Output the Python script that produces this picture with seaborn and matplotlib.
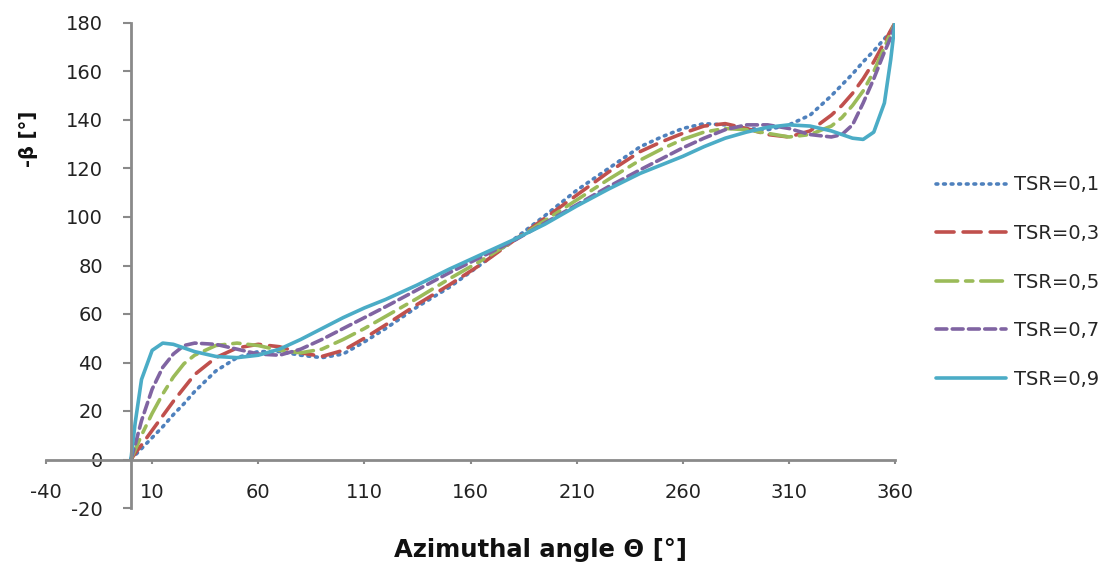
import numpy as np
import pandas as pd
import matplotlib
matplotlib.use("Agg")
import matplotlib.pyplot as plt
import seaborn as sns

# ---- data ----
theta = [0, 2, 5, 10, 15, 20, 25, 30, 40, 50, 60, 70, 80, 90, 100, 110, 120, 135,
         150, 165, 180, 195, 210, 225, 240, 250, 260, 270, 280, 290, 300, 310,
         320, 330, 335, 340, 345, 350, 355, 358, 360]

tsr_01 = [0, 1.8, 4.5, 9, 13.5, 18.5, 23, 28, 36.5, 42, 44.5, 44.5, 43, 42, 43.5, 48.5, 54, 63,
          71, 80.5, 90.5, 100.5, 111, 120, 129, 133, 136.5, 138.5, 138, 136.5, 136, 138,
          142, 150, 154.5, 159, 164, 168.5, 173.5, 176.5, 180]
tsr_03 = [0, 2.5, 6, 12, 18, 24, 29.5, 35, 42, 46, 47.5, 46.5, 44, 42.5, 45, 50, 55.5, 64,
          72, 80.5, 90, 99.5, 109, 118.5, 127, 131, 134.5, 137.5, 138.5, 136.5, 134, 133,
          135.5, 142, 146, 151, 157, 164, 172, 177, 180]
tsr_05 = [0, 4, 10, 19, 27, 34, 39.5, 43, 47, 48, 47, 45, 44, 45.5, 49.5, 54, 59, 66.5,
          74.5, 82, 90, 98.5, 107, 115.5, 123.5, 128, 132, 135, 136.5, 136, 134.5, 133,
          134, 137.5, 141, 146, 152, 160, 170, 176, 180]
tsr_07 = [0, 6, 16, 29, 38, 43.5, 47, 48, 47.5, 45.5, 43.5, 43, 45.5, 49.5, 54, 58.5, 63, 70,
          77, 83.5, 90, 97.5, 105, 112.5, 119.5, 124, 128.5, 132.5, 136, 138, 138, 136.5,
          134, 133, 134, 138, 147, 157, 168, 174, 180]
tsr_09 = [0, 15, 33, 45, 48, 47.5, 46, 44.5, 42.5, 42, 43, 45.5, 49.5, 54, 58.5, 62.5, 66, 72,
          78.5, 84.5, 90.5, 97, 104.5, 111.5, 118, 121.5, 125, 129, 132.5, 135, 137, 138,
          137.5, 135.5, 134, 132.5, 132, 135, 147, 165, 180]

series_labels = ["TSR=0,1", "TSR=0,3", "TSR=0,5", "TSR=0,7", "TSR=0,9"]
series_values = [tsr_01, tsr_03, tsr_05, tsr_07, tsr_09]
series_colors = ["#4F81BD", "#C0504D", "#9BBB59", "#8064A2", "#4BACC6"]

x_ticks = [-40, 10, 60, 110, 160, 210, 260, 310, 360]
y_ticks = [-20, 0, 20, 40, 60, 80, 100, 120, 140, 160, 180]

df = pd.concat(
    [pd.DataFrame({"theta": theta, "beta": vals, "series": lab})
     for lab, vals in zip(series_labels, series_values)],
    ignore_index=True)

# ---- styling ----
sns.set_theme(style="white")
plt.rcParams["font.family"] = ["DejaVu Sans"]
plt.rcParams["axes.unicode_minus"] = False

fig = plt.figure(figsize=(11.06, 5.67), dpi=100)
ax = fig.add_axes([46 / 1106, 1 - 508 / 567, (895 - 46) / 1106, (508 - 23) / 567])

dashes = {
    "TSR=0,1": (0.5, 1.6),
    "TSR=0,3": (5, 2.5),
    "TSR=0,5": (6, 2.2, 2, 2.2),
    "TSR=0,7": (3, 1.5),
    "TSR=0,9": "",
}

sns.lineplot(data=df, x="theta", y="beta", hue="series", style="series",
             hue_order=series_labels, style_order=series_labels,
             palette=dict(zip(series_labels, series_colors)),
             dashes=dashes, estimator=None, sort=False,
             linewidth=2.6, ax=ax, legend=True)

for ln in ax.get_lines():
    ln.set_dash_capstyle("round")

ax.set_xlim(-40, 360)
ax.set_ylim(-20, 180)
ax.set_xticks(x_ticks)
ax.set_yticks(y_ticks)

for side in ["top", "right"]:
    ax.spines[side].set_visible(False)
ax.spines["left"].set_position(("data", 0))
ax.spines["bottom"].set_position(("data", 0))
for side in ["left", "bottom"]:
    ax.spines[side].set_color("#8a8a8a")
    ax.spines[side].set_linewidth(2.0)

ax.tick_params(axis="y", which="major", direction="out", length=6, width=1.5,
               color="#8a8a8a", labelsize=14, labelcolor="#222222", pad=14, left=True)
ax.tick_params(axis="x", which="major", direction="out", length=3, width=1.5,
               color="#8a8a8a", labelsize=14, labelcolor="#222222", pad=14, bottom=True)

ax.set_xlabel("")
ax.set_ylabel("")
fig.text(540 / 1106, 1 - 550 / 567, "Azimuthal angle Θ [°]", ha="center", va="center",
         fontsize=17.5, fontweight="bold", color="#111111")
fig.text(28 / 1106, 1 - 139 / 567, "-β [°]", ha="center", va="center", rotation=90,
         fontsize=14, fontweight="bold", color="#111111")

handles, labels = ax.get_legend_handles_labels()
ax.legend(handles, labels, loc="center left", bbox_to_anchor=(936 / 1106, 1 - 282 / 567),
          bbox_transform=fig.transFigure, frameon=False, fontsize=14,
          handlelength=3.6, handletextpad=0.4, labelspacing=1.52,
          borderpad=0, borderaxespad=0)

fig.savefig("out.png", dpi=100, facecolor="white")
